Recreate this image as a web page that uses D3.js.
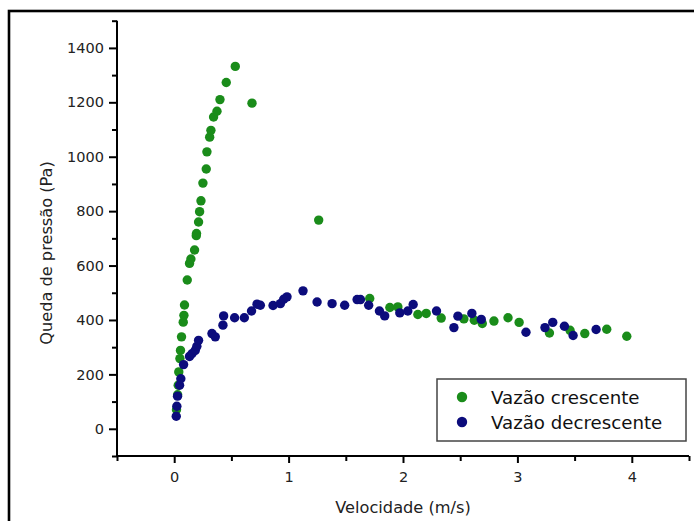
<!DOCTYPE html>
<html>
<head>
<meta charset="utf-8">
<script src="https://cdn.jsdelivr.net/npm/d3@7"></script>
<style>
  body { margin: 0; background: #fff; }
  text { font-family: "DejaVu Sans", Arial, sans-serif; }
  .tick-label { font-size: 14.5px; fill: #222; }
  .axis-tag { font-size: 16.2px; fill: #222; }
  .legend-text { font-size: 18.2px; fill: #111; }
</style>
</head>
<body>
<div id="chart"></div>
<script>
// Vazão crescente
let up_vel = [0.02, 0.03, 0.035, 0.04, 0.05, 0.055, 0.064, 0.079, 0.085, 0.09, 0.114, 0.134, 0.146, 0.178,
  0.193, 0.195, 0.213, 0.222, 0.234, 0.251, 0.28, 0.286, 0.31, 0.321, 0.344, 0.374, 0.40, 0.455, 0.534,
  0.68, 1.263, 1.709, 1.885, 1.955, 2.13, 2.203, 2.334, 2.532, 2.623, 2.693, 2.795, 2.918, 3.015, 3.28,
  3.46, 3.589, 3.781, 3.956];
let up_dp = [70, 125, 160, 209, 258, 288, 338, 392, 417, 455, 547, 608, 624, 657,
  710, 718, 760, 798, 838, 903, 955, 1018, 1072, 1097, 1146, 1167, 1210, 1273, 1332,
  1197, 767, 479, 446, 448, 420, 424, 407, 404, 399, 387, 396, 408, 391, 352,
  362, 350, 366, 340];
// Vazão decrescente
let down_vel = [0.018, 0.023, 0.029, 0.047, 0.058, 0.082, 0.134, 0.155, 0.184, 0.198, 0.213, 0.33, 0.359,
  0.426, 0.432, 0.528, 0.613, 0.676, 0.724, 0.753, 0.864, 0.928, 0.957, 0.986, 1.126, 1.249, 1.38, 1.49,
  1.599, 1.628, 1.7, 1.794, 1.84, 1.972, 2.042, 2.089, 2.293, 2.445, 2.48, 2.602, 2.684, 3.075, 3.241,
  3.309, 3.411, 3.487, 3.688];
let down_dp = [46, 83, 120, 160, 184, 236, 266, 276, 288, 303, 325, 350, 338,
  381, 415, 408, 408, 433, 458, 454, 453, 460, 476, 485, 507, 466, 460, 454,
  475, 475, 454, 433, 415, 426, 433, 457, 433, 372, 414, 424, 402, 355, 372,
  391, 377, 343, 365];

let series_names = ["Vazão crescente", "Vazão decrescente"];
let series_colors = ["#1a8c1a", "#0c0c7c"];
let x_ticks = [0, 1, 2, 3, 4];
let x_minor = [-0.5, 0.5, 1.5, 2.5, 3.5, 4.5];
let y_ticks = [0, 200, 400, 600, 800, 1000, 1200, 1400];
let y_minor = [-100, 100, 300, 500, 700, 900, 1100, 1300, 1500];

let total_width = 694;
let total_height = 521;

var x = d3.scaleLinear().domain([-0.5, 4.5]).range([117, 689]);
var y = d3.scaleLinear().domain([-100, 1500]).range([456, 20.7]);

var svg = d3.select("#chart").append("svg")
    .attr("width", total_width)
    .attr("height", total_height);

// outer frame
svg.append("rect")
    .attr("x", 9).attr("y", 11)
    .attr("width", 700).attr("height", 530)
    .attr("fill", "none")
    .attr("stroke", "#000")
    .attr("stroke-width", 2.6);

// axes
svg.append("g")
    .attr("transform", "translate(0," + 456 + ")")
    .call(d3.axisBottom(x).tickValues(x_minor).tickSize(5).tickFormat(""))
    .call(g => g.select(".domain").remove())
    .call(g => g.selectAll("line").attr("stroke-width", 2));
svg.append("g")
    .attr("transform", "translate(0," + 456 + ")")
    .call(d3.axisBottom(x).tickValues(x_ticks).tickSize(7).tickPadding(9).tickFormat(d3.format("d")))
    .call(g => g.select(".domain").attr("stroke-width", 2).attr("d", "M117,0H689"))
    .call(g => g.selectAll("line").attr("stroke-width", 2))
    .call(g => g.selectAll("text").attr("class", "tick-label").attr("font-size", null).attr("font-family", null));

svg.append("g")
    .attr("transform", "translate(" + 117 + ",0)")
    .call(d3.axisLeft(y).tickValues(y_minor).tickSize(5).tickFormat(""))
    .call(g => g.select(".domain").remove())
    .call(g => g.selectAll("line").attr("stroke-width", 2));
svg.append("g")
    .attr("transform", "translate(" + 117 + ",0)")
    .call(d3.axisLeft(y).tickValues(y_ticks).tickSize(8).tickPadding(5).tickFormat(d3.format("d")))
    .call(g => g.select(".domain").attr("stroke-width", 2).attr("d", "M0,20.7V456"))
    .call(g => g.selectAll("line").attr("stroke-width", 2))
    .call(g => g.selectAll("text").attr("class", "tick-label").attr("font-size", null).attr("font-family", null));

// points
let up = up_vel.map((v, i) => ({v: v, p: up_dp[i]}));
let down = down_vel.map((v, i) => ({v: v, p: down_dp[i]}));

[up, down].forEach((pts, k) => {
  svg.append("g").selectAll("circle")
    .data(pts).enter().append("circle")
      .attr("cx", d => x(d.v))
      .attr("cy", d => y(d.p))
      .attr("r", 4.7)
      .attr("fill", series_colors[k]);
});

// axis titles
svg.append("text")
    .attr("class", "axis-tag")
    .attr("x", (117 + 689) / 2)
    .attr("y", 513)
    .attr("text-anchor", "middle")
    .text("Velocidade (m/s)");

svg.append("text")
    .attr("class", "axis-tag")
    .attr("transform", "translate(52,253) rotate(-90)")
    .attr("text-anchor", "middle")
    .text("Queda de pressão (Pa)");

// legend
let legend = svg.append("g");
legend.append("rect")
    .attr("x", 437).attr("y", 379)
    .attr("width", 249).attr("height", 62)
    .attr("fill", "#fff")
    .attr("stroke", "#444")
    .attr("stroke-width", 1.5);
series_names.forEach((name, i) => {
  legend.append("circle")
      .attr("cx", 462).attr("cy", 397 + i * 25)
      .attr("r", 5.2)
      .attr("fill", series_colors[i]);
  legend.append("text")
      .attr("class", "legend-text")
      .attr("x", 491).attr("y", 397 + i * 25 + 6.5)
      .text(name);
});
</script>
</body>
</html>
